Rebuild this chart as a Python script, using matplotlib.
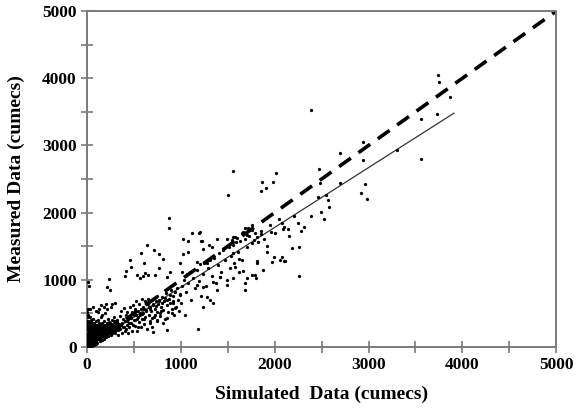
import matplotlib.pyplot as plt

# -----data (cumecs)-----
# dense cluster near origin
sim_low = [5, 8, 10, 12, 15, 18, 20, 22, 25, 28, 30, 32, 35, 38, 40, 42, 45, 48, 50, 52, 55, 58, 60, 62, 65,
           68, 70, 72, 75, 78, 80, 82, 85, 88, 90, 92, 95, 98, 100, 102, 105, 108, 110, 112, 115, 118, 120,
           122, 125, 128, 130, 132, 135, 138, 140, 142, 145, 148, 150, 152, 155, 158, 160, 162, 165, 168,
           170, 172, 175, 178, 180, 182, 185, 188, 190, 192, 195, 198, 200, 205, 210, 212, 215, 218, 220,
           225, 228, 230, 235, 238, 240, 245, 250, 255, 258, 262, 265, 270, 275, 280, 285, 290, 295, 300,
           2, 3, 4, 6, 7, 9, 11, 13, 14, 16, 17, 19, 21, 23, 24, 26, 27, 29, 31, 33, 34, 36, 37, 39, 41, 43,
           44, 46, 47, 49, 51, 53, 54, 56, 57, 59, 61, 63, 64, 66, 67, 69, 71, 73, 74, 76, 77, 79, 81, 83,
           84, 86, 87, 89, 91, 93, 94, 96, 97, 99, 3, 5, 8, 2, 1, 4,
           11, 21, 30, 60, 90, 130, 150, 180, 200, 215, 250, 270, 300, 245, 213, 230, 120, 160,
           6, 14, 24, 33, 45, 57, 66, 78, 88, 101, 114, 126, 137, 149, 161, 173, 186, 197, 209, 221, 233,
           247, 259, 272, 284, 297, 309, 318, 327, 336, 345, 12, 27, 39, 52, 69, 83, 96, 109, 123, 139,
           154, 167, 181, 194, 207, 224, 238, 252, 266, 281, 294, 306, 322, 338, 352, 8, 19, 36, 49, 63,
           79, 93, 106, 119, 133, 146, 159, 176, 189, 203, 217, 231, 244, 261, 276, 289, 303, 314, 331,
           17, 31, 44, 58, 73, 87, 103, 117, 131, 144, 157, 171, 184, 199, 211, 226, 242, 256, 268, 287,
           1, 2, 4, 6, 9, 3, 7, 5, 10, 2]
meas_low = [40, 120, 210, 300, 80, 160, 250, 350, 30, 190, 120, 280, 60, 220, 400, 150, 90, 330, 200, 20,
            260, 110, 170, 420, 70, 300, 230, 140, 50, 360, 190, 260, 100, 310, 160, 220, 380, 130, 270, 60,
            200, 330, 240, 110, 170, 290, 400, 210, 150, 350, 250, 90, 300, 190, 230, 130, 320, 270, 180,
            440, 220, 100, 290, 350, 160, 250, 200, 310, 120, 380, 240, 280, 170, 330, 210, 500, 260, 140,
            300, 230, 360, 190, 270, 420, 320, 160, 250, 290, 210, 370, 300, 240, 330, 180, 280, 400, 260,
            340, 220, 310, 450, 270, 200, 360,
            10, 60, 150, 250, 330, 90, 180, 20, 380, 230, 50, 140, 300, 100, 200, 450, 10, 340, 70, 180, 240,
            30, 130, 290, 210, 50, 370, 140, 260, 100, 310, 180, 230, 40, 350, 270, 130, 200, 90, 240, 150,
            340, 180, 280, 30, 210, 120, 250, 320, 80, 200, 270, 150, 230, 40, 300, 190, 100, 260, 330, 520,
            560, 480, 380, 280, 450,
            967, 908, 560, 590, 540, 560, 620, 600, 640, 560, 590, 640, 660, 848, 893, 1010, 520, 480,
            95, 175, 65, 140, 230, 120, 190, 80, 215, 165, 245, 130, 205, 150, 275, 185, 230, 260, 195, 300,
            240,
            225, 270, 240, 310, 255, 290, 330, 250, 300, 270, 350, 220, 110, 260, 180, 150, 205, 240, 120,
            330,
            280, 170, 230, 310, 200, 250, 280, 215, 330, 260, 300, 380, 290, 340, 320, 155, 60, 135, 210,
            280,
            100, 245, 175, 140, 260, 225, 190, 320, 160, 280, 240, 210, 350, 270, 230, 390, 300, 360, 280,
            260, 200, 85, 240, 130, 185, 300, 160, 215, 260, 240, 180, 290, 225, 315, 250, 340, 280, 200,
            260,
            320, 15, 25, 50, 35, 70, 5, 45, 100, 60]

# middle band
sim_mid = [310, 320, 330, 340, 350, 355, 360, 370, 375, 380, 390, 395, 400, 410, 415, 420, 430, 435, 440,
           450, 455, 460, 470, 475, 480, 490, 495, 500, 510, 515, 520, 530, 535, 540, 550, 555, 560, 570,
           575, 580, 590, 595, 600, 610, 615, 620, 630, 640, 645, 650, 660, 665, 670, 680, 690, 695, 700,
           710, 720, 730, 740, 745, 750, 760, 770, 780, 790, 800, 810, 820, 830, 840, 850, 860, 870, 880,
           890, 900, 910, 920, 930, 940, 950, 960, 970, 980, 990, 1000,
           874, 874, 1119, 1194, 1023, 1077, 1215, 640, 714, 576, 767, 810, 608, 458, 1023, 1077, 1333,
           1386, 1492, 991, 1173, 767, 885, 533, 597, 650, 725, 1013, 1279, 469, 618, 565, 416, 405, 853,
           1205, 1226, 1237, 1300, 1418, 1343, 1386, 1279, 1311, 1343, 1237, 1183, 1045, 1173, 1237, 991,
           917, 938, 853, 906, 810, 746, 704, 853, 778, 693,
           365, 385, 425, 445, 465, 505, 525, 545, 565, 585, 605, 625, 655, 675, 705, 735, 765, 795, 825,
           855, 885, 315, 345, 405, 485, 545, 605, 665, 725, 785]
meas_mid = [250, 400, 180, 320, 460, 270, 530, 350, 210, 420, 300, 580, 380, 260, 470, 330, 520, 200, 410,
            290, 600, 450, 350, 520, 240, 620, 400, 480, 310, 560, 680, 420, 240, 530, 370, 640, 470, 300,
            560, 720, 410, 500, 600, 340, 680, 450, 550, 260, 640, 720, 480, 380, 600, 530, 700, 300, 620,
            450, 560, 680, 380, 760, 520, 640, 700, 460, 600, 750, 550, 680, 420, 800, 620, 520, 720, 650,
            850, 560, 760, 680, 480, 820, 600, 880, 700, 540, 790, 650,
            1920, 1771, 1696, 1696, 1607, 1577, 1577, 1518, 1443, 1399, 1384, 1309, 1250, 1295, 1384, 1414,
            1488, 1607, 1607, 1250, 1265, 1176, 1116, 1071, 1056, 1071, 1071, 1116, 1250, 1190, 1101, 1027,
            1131, 1056, 1042, 1711, 1577, 1458, 1518, 1042, 967, 848, 744, 699, 655, 595, 268, 476, 923, 893,
            774, 655, 580, 432, 506, 357, 402, 223, 253, 506, 432,
            330, 290, 380, 350, 430, 400, 470, 450, 510, 490, 560, 530, 590, 570, 640, 610, 690, 660, 730,
            700, 780, 370, 300, 240, 330, 290, 420, 350, 470, 530]

# upper scatter
sim_high = [1010, 1030, 1050, 1060, 1080, 1100, 1110, 1130, 1150, 1170, 1190, 1200, 1210, 1230, 1250, 1270,
            1290, 1310, 1330, 1350, 1370, 1390, 1410, 1430, 1450, 1470, 1490, 1510, 1530, 1550, 1570, 1590,
            1610, 1630, 1650, 1680, 1700, 1730, 1760, 1790, 1820, 1850, 1880, 1920, 1950, 2000, 2050, 2100,
            2150, 2200, 2250,
            1503, 1556, 1855, 1866, 1908, 1983, 2015, 2388, 3742, 3752, 3870, 3560, 3731, 3560, 3305, 2942,
            2942, 2697, 2473, 2484, 2697, 2963, 2921, 2985, 2462, 2569, 2548, 2388, 2494, 2526, 2580, 2313,
            2281, 2260, 2185, 2260, 2079, 2089, 2143, 1962, 1855, 1759, 1684, 1652, 1578, 1546, 1706, 1780,
            1556, 1919, 1620, 1812, 1993, 2057, 2100, 1972, 1876, 1663, 1759, 1801, 1524, 1556, 1599, 1663,
            1759, 1716, 1812, 2079, 2111, 1812, 1684, 1706, 1791, 1684, 1418, 1492, 1556, 1620, 1578]
meas_high = [900, 1000, 820, 1080, 950, 1120, 700, 1020, 880, 1150, 980, 1230, 760, 1080, 1250, 900, 1180,
             1300, 1050, 1330, 950, 1220, 1400, 1120, 1450, 1300, 1000, 1480, 1350, 1520, 1250, 1560, 1420,
             1580, 1300, 1600, 1480, 1650, 1540, 1700, 1560, 1730, 1600, 1500, 1820, 1700, 1900, 1780, 1650,
             1950, 1850,
             2262, 2619, 2321, 2455, 2366, 2455, 2589, 3527, 4047, 3943, 3720, 3393, 3467, 2797, 2931, 3050,
             2782, 2886, 2648, 2440, 2440, 2425, 2292, 2202, 2232, 2187, 2262, 1949, 2009, 1905, 2083, 1786,
             1726, 1488, 1473, 1056, 1845, 1756, 1756, 1711, 1681, 1815, 1771, 1696, 1637, 1592, 1667, 1592,
             1399, 1414, 1309, 1250, 1339, 1295, 1280, 1265, 1146, 1131, 1071, 1027, 1176, 1637, 1622, 1711,
             1741, 1771, 1637, 1339, 1280, 1280, 952, 1027, 1071, 848, 1042, 923, 1027, 1116, 1190]

# reference 1:1 line and fitted line
line_x = [0, 5000]
line_y = [0, 5000]
fit_x = [0, 3910]
fit_y = [0, 3480]

fig = plt.figure(figsize=(5.77, 4.11), dpi=100)
ax = fig.add_axes([0.151, 0.156, 0.813, 0.817])

for sx, sy in [(sim_low, meas_low), (sim_mid, meas_mid), (sim_high, meas_high)]:
    ax.scatter(sx, sy, s=5.5, c="black", linewidths=0, zorder=3)

ax.plot(line_x, line_y, color="black", lw=2.6, dashes=(4, 2.6), zorder=2)
ax.plot(fit_x, fit_y, color="#333333", lw=0.9, zorder=2)

ax.set_xlim(0, 5000)
ax.set_ylim(0, 5000)
ax.set_xticks(range(0, 5001, 1000))
ax.set_yticks(range(0, 5001, 1000))
ax.set_xticks(range(500, 5000, 1000), minor=True)
ax.set_yticks(range(500, 5000, 1000), minor=True)

for sp in ax.spines.values():
    sp.set_color("#7a7a7a")
    sp.set_linewidth(1.4)
ax.tick_params(which="both", direction="inout", length=8, width=1.2, color="#7a7a7a")

font = {"family": "Liberation Serif", "weight": "bold"}
for lbl in ax.get_xticklabels() + ax.get_yticklabels():
    lbl.set_fontfamily("Liberation Serif")
    lbl.set_fontweight("bold")
    lbl.set_fontsize(12.5)

ax.set_xlabel("Simulated  Data (cumecs)", fontsize=14, labelpad=9, **font)
ax.set_ylabel("Measured Data (cumecs)", fontsize=14, labelpad=12, **font)

plt.savefig("out.png", dpi=100)
